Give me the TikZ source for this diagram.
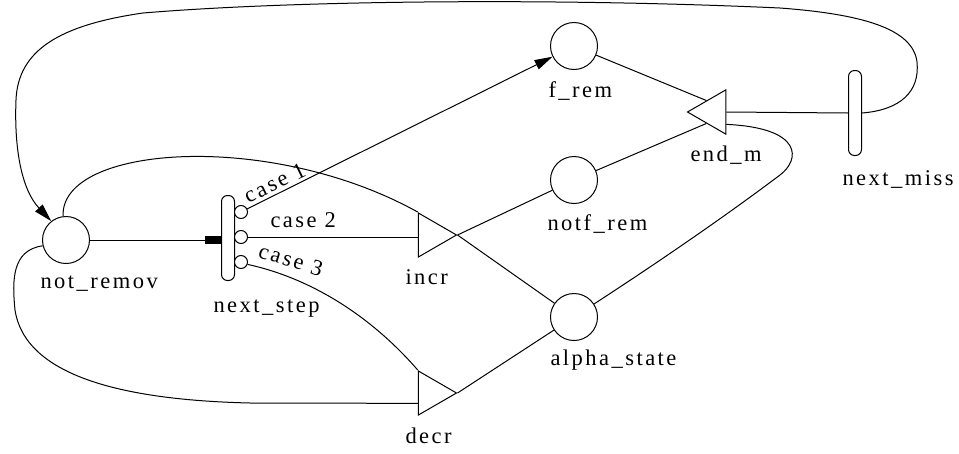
\documentclass[tikz,border=0pt]{standalone}
\usepackage{fontspec}
\usetikzlibrary{shapes.geometric,arrows.meta}
\newfontfamily\lblfont[LetterSpace=11]{Liberation Serif}
\tikzset{
  place/.style={circle, draw, minimum size=47pt, inner sep=0pt},
  trans/.style={draw, rounded corners=6pt, minimum width=13pt, minimum height=85pt, inner sep=0pt},
  tri/.style={regular polygon, regular polygon sides=3, draw, minimum size=51pt, inner sep=0pt},
  port/.style={circle, draw, fill=white, minimum size=13pt, inner sep=0pt},
  txt/.style={font=\lblfont\fontsize{22.5}{26}\selectfont, inner sep=0pt, anchor=base west},
}
\begin{document}
\begin{tikzpicture}[x=1pt, y=-1pt, line width=1pt, >={Triangle[length=18pt,width=10pt]}]
\useasboundingbox (0,0) rectangle (959,453);
% places
\node[place] (notremov) at (66,240) {};
\node[place] (frem) at (574,46) {};
\node[place] (notfrem) at (574,180) {};
\node[place] (alpha) at (574,317) {};
% timed transitions with their case ports
\node[trans] (nextstep) at (228,238) {};
\node[trans] (nextmiss) at (855,113) {};
\node[port] (case1) at (241,212) {};
\node[port] (case2) at (241,237) {};
\node[port] (case3) at (241,262) {};
% immediate transitions
\node[tri, shape border rotate=-90] (incr) at (431,235) {};
\node[tri, shape border rotate=-90] (decr) at (431,393) {};
\node[tri, shape border rotate=90] (endm) at (713,112) {};
% labels
\node[txt] (l-notremov) at (40,288) {not\_remov};
\node[txt] (l-nextstep) at (213,312) {next\_step};
\node[txt] (l-nextmiss) at (842,185) {next\_miss};
\node[txt] (l-frem) at (548,97) {f\_rem};
\node[txt] (l-notfrem) at (547,230) {notf\_rem};
\node[txt] (l-alpha) at (550,365) {alpha\_state};
\node[txt] (l-endm) at (690,161) {end\_m};
\node[txt] (l-incr) at (405,284) {incr};
\node[txt] (l-decr) at (405,443) {decr};
\node[txt] (l-case2) at (270,227) {case 2};
\node[txt, rotate=26] (l-case1) at (248,204) {case 1};
\node[txt, rotate=-17] (l-case3) at (257,257) {case 3};
% arcs out of not_remov
\draw[-{Rectangle[length=16pt,width=8pt]}] (notremov.east) -- (notremov.east -| nextstep.west);
\draw (notremov.97) .. controls (60,145) and (270,130) .. (incr.corner 2);
\draw (notremov.194) .. controls (12,250) and (12,280) .. (15,310) .. controls (25,375) and (120,400) .. (250,403) -- (decr.218);
% the three cases of next_step
\draw[->] (case1) -- (frem);
\draw (case2.east) -- (case2.east -| incr.west);
\draw (case3.-20) .. controls (310,278) and (370,315) .. (decr.corner 2);
% incr / decr outputs
\draw (incr.corner 1) -- (notfrem);
\draw (incr.corner 1) -- (alpha);
\draw (decr.corner 1) -- (alpha);
% into end_m
\draw (frem) -- (endm.side 3);
\draw (notfrem) -- (endm.side 1);
\draw (alpha.33) .. controls (700,235) and (760,190) .. (780,175) .. controls (800,160) and (804,128) .. (endm.-43);
\draw (endm.east) -- (nextmiss.west);
% back round the top to not_remov
\draw[->] (nextmiss.east) .. controls (900,110) and (920,92) .. (917,62) .. controls (913,28) and (860,14) .. (780,8)
  .. controls (560,-2) and (300,0) .. (143,13) .. controls (60,25) and (18,50) .. (16,100)
  .. controls (14,150) and (22,190) .. (notremov.128);
\end{tikzpicture}
\end{document}
